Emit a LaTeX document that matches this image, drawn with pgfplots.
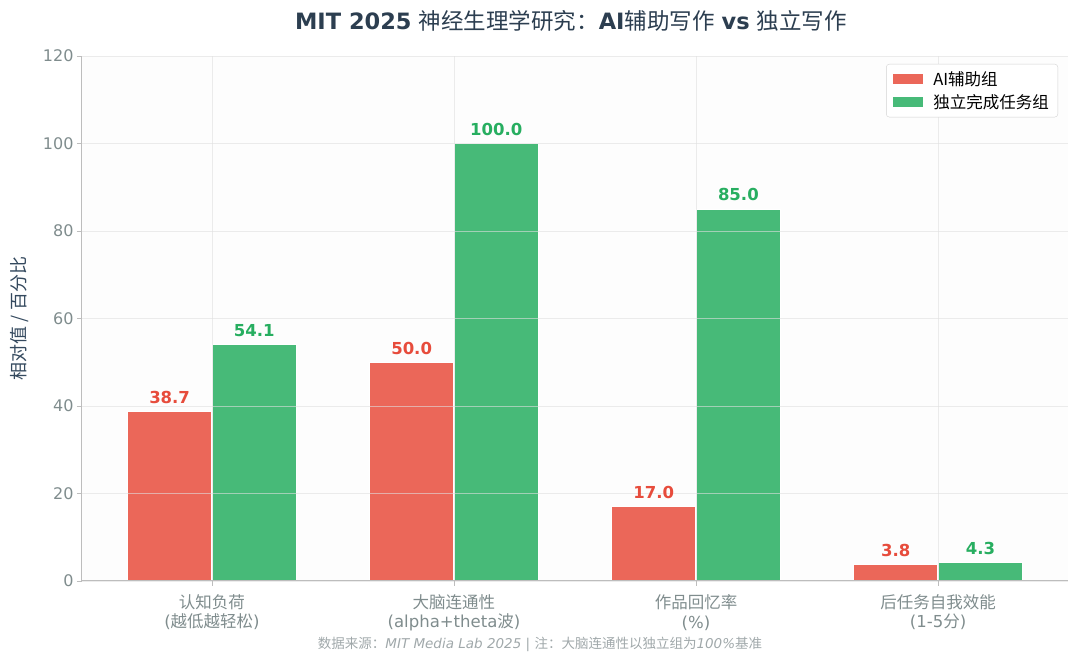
\documentclass[border=0pt]{standalone}
\usepackage{fontspec}
\setmainfont{DejaVu Sans}
\newfontfamily\cjk{Noto Sans CJK SC}
\usepackage{pgfplots}
\pgfplotsset{compat=1.18}
\definecolor{redbar}{HTML}{EB6759}
\definecolor{greenbar}{HTML}{47BA78}
\definecolor{redtxt}{HTML}{E74C3C}
\definecolor{greentxt}{HTML}{27AE60}
\definecolor{titlec}{HTML}{2C3E50}
\definecolor{labelc}{HTML}{34495E}
\definecolor{tickc}{HTML}{7F8C8D}
\definecolor{footc}{HTML}{A0A8AA}
\definecolor{gridc}{HTML}{E0E0E0}
\definecolor{spinec}{HTML}{BDBDBD}
\begin{document}
\begin{tikzpicture}
\path[use as bounding box] (-82pt,-83pt) rectangle (998pt,581pt);
\begin{axis}[
  at={(0,0)}, anchor=south west,
  scale only axis, width=986pt, height=525pt,
  xmin=-0.537, xmax=3.537, ymin=0, ymax=120,
  ybar=0pt, bar width=0.35,
  axis x line*=bottom, axis y line*=left,
  axis line style={spinec, line width=1pt},
  axis background/.style={fill=gray!1.5},
  axis on top,
  grid=major,
  major grid style={gridc, opacity=0.6, line width=0.8pt},
  tick style={spinec, line width=0.8pt},
  tick align=outside, major tick length=5pt,
  xtick={0,1,2,3},
  xticklabels={
    {{\cjk 认知负荷}\\({\cjk 越低越轻松})},
    {{\cjk 大脑连通性}\\(alpha+theta{\cjk 波})},
    {{\cjk 作品回忆率}\\(\%)},
    {{\cjk 后任务自我效能}\\(1-5{\cjk 分})}},
  xticklabel style={align=center, text=tickc, font=\fontsize{16.5}{19.5}\selectfont, yshift=-5pt},
  ytick={0,20,...,120},
  yticklabel style={text=tickc, font=\fontsize{16}{19}\selectfont},
  /pgf/number format/assume math mode=true,
  ylabel={\cjk 相对值 / 百分比},
  every axis y label/.style={at={(axis description cs:0,0.5)}, rotate=90, anchor=center, yshift=62pt, text=labelc, font=\fontsize{18}{21}\selectfont},
  nodes near coords={\pgfmathprintnumber[fixed,fixed zerofill,precision=1,assume math mode=true]{\pgfplotspointmeta}},
  nodes near coords style={font=\bfseries\fontsize{16.5}{19}\selectfont, anchor=south, yshift=4pt},
  legend style={at={(axis description cs:1,1)}, anchor=north east, xshift=-10pt, yshift=-8pt,
     draw=gray!35, rounded corners=3pt, fill=white, font=\fontsize{16.5}{19}\selectfont,
     inner xsep=7pt, inner ysep=5pt, row sep=4pt},
  legend cell align=left,
  legend image code/.code={\fill[#1, draw=none, sharp corners] (0pt,-5pt) rectangle (30pt,5pt); \path[draw=none, fill=none] (0pt,0pt) -- (38pt,0pt);},
]
\addplot[fill=redbar, draw=white, line width=1.2pt, every node near coord/.append style={text=redtxt}]
  coordinates {(0,38.7) (1,50.0) (2,17.0) (3,3.8)};
\addplot[fill=greenbar, draw=white, line width=1.2pt, every node near coord/.append style={text=greentxt}]
  coordinates {(0,54.1) (1,100.0) (2,85.0) (3,4.3)};
\legend{{\cjk AI辅助组},{\cjk 独立完成任务组}}
\end{axis}
\node[text=titlec, font=\fontsize{22.5}{26}\selectfont] at (489pt,560pt)
  {\textbf{MIT 2025} {\cjk 神经生理学研究：}\textbf{AI}{\cjk 辅助写作} \textbf{vs} {\cjk 独立写作}};
\node[text=footc, font=\fontsize{13.5}{16}\selectfont] at (458pt,-63pt)
  {{\cjk 数据来源：}\textit{MIT Media Lab 2025} | {\cjk 注：大脑连通性以独立组为}\textit{100\%}{\cjk 基准}};
\end{tikzpicture}
\end{document}
